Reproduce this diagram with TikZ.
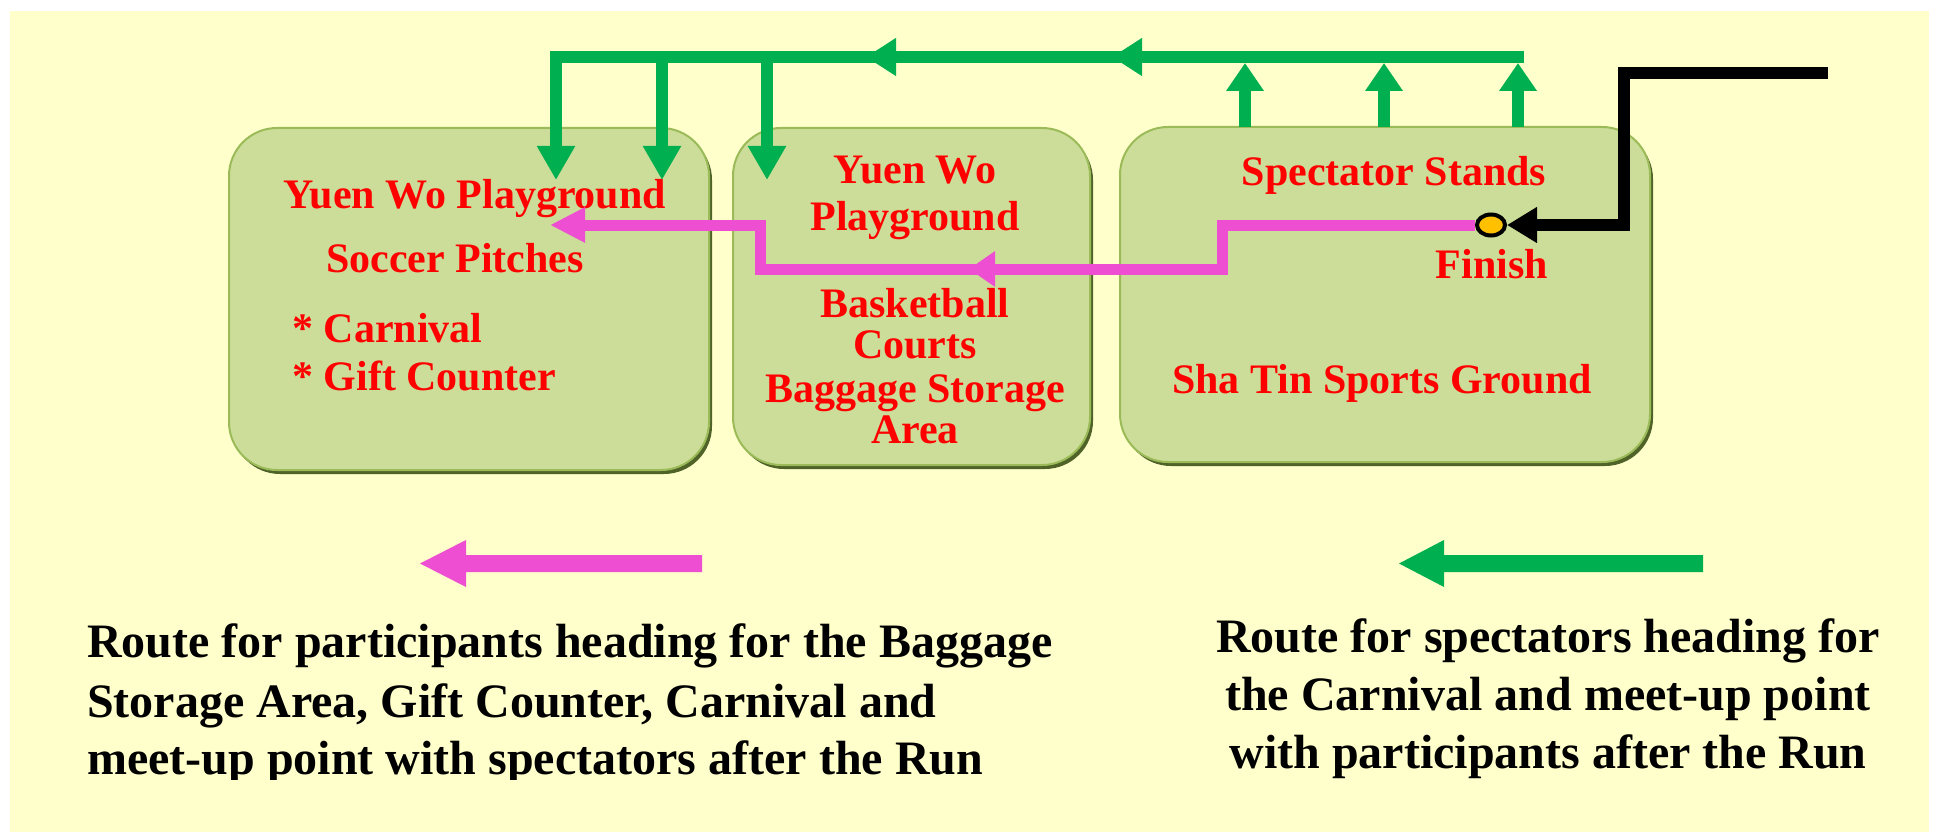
\documentclass[tikz,border=0pt]{standalone}
\usepackage{fontspec}
\setmainfont{Liberation Serif}
\usetikzlibrary{arrows.meta,shapes.geometric,shadows}
\definecolor{bgyellow}{RGB}{255,255,204}
\definecolor{boxfill}{RGB}{204,221,153}
\definecolor{boxline}{RGB}{155,187,89}
\definecolor{boxshadow}{RGB}{79,98,40}
\definecolor{routegreen}{RGB}{0,176,80}
\definecolor{routepink}{RGB}{238,78,210}
\definecolor{finishfill}{RGB}{255,192,0}
\definecolor{labelred}{RGB}{255,0,0}
\tikzset{
  areabox/.style={draw=boxline, line width=2pt, fill=boxfill, rounded corners=48pt,
    inner sep=0pt, drop shadow={shadow xshift=3pt, shadow yshift=-4pt, fill=boxshadow, opacity=1}},
  boxtext/.style={text=labelred, inner sep=0pt, font={\fontsize{42}{44}\selectfont\bfseries}},
  legendtext/.style={text=black, inner sep=0pt, font={\fontsize{48}{58}\selectfont\bfseries}},
  gline/.style={draw=routegreen, line width=12pt},
  pline/.style={draw=routepink, line width=11pt},
  kline/.style={draw=black, line width=11.5pt},
  downtip/.style={-{Triangle[length=34pt,width=36pt]}},
  uptip/.style={-{Triangle[length=28pt,width=36pt]}},
  lefttip/.style={-{Triangle[length=30pt,width=36pt]}},
}
\begin{document}
\begin{tikzpicture}[x=1pt,y=-1pt]
\useasboundingbox (0,0) rectangle (1938,832);
\fill[white] (0,0) rectangle (1938,832);
\fill[bgyellow] (10,11) rectangle (1929,832);

% area boxes
\node[areabox, minimum width=480pt, minimum height=342pt] (b1) at (469,299) {};
\node[areabox, minimum width=357pt, minimum height=337pt] (b2) at (911.5,296.5) {};
\node[areabox, minimum width=530pt, minimum height=335pt] (b3) at (1385,294.5) {};

% box texts
\node[boxtext, anchor=base west] (t11) at (283,208) {Yuen Wo Playground};
\node[boxtext, anchor=base west] (t12) at (326,272) {Soccer Pitches};
\node[boxtext, anchor=base west] (t13) at (292,342) {* Carnival};
\node[boxtext, anchor=base west] (t14) at (292,390) {* Gift Counter};
\node[boxtext, anchor=base] (t21) at (915,183) {Yuen Wo};
\node[boxtext, anchor=base] (t22) at (915,230) {Playground};
\node[boxtext, anchor=base] (t23) at (915,317) {Basketball};
\node[boxtext, anchor=base] (t24) at (915,358) {Courts};
\node[boxtext, anchor=base] (t25) at (915,402) {Baggage Storage};
\node[boxtext, anchor=base] (t26) at (915,443) {Area};
\node[boxtext, anchor=base] (t31) at (1394,185) {Spectator Stands};
\node[boxtext, anchor=base] (t32) at (1492,278) {Finish};
\node[boxtext, anchor=base] (t33) at (1382,393) {Sha Tin Sports Ground};

% route coordinates
\coordinate (gL) at (550,57);
\coordinate (gA1) at (866,57);
\coordinate (gA1b) at (894,57);
\coordinate (gA2) at (1112,57);
\coordinate (gA2b) at (1140,57);
\coordinate (gR) at (1524,57);
\coordinate (d1s) at (556,51);  \coordinate (d1e) at (556,180);
\coordinate (d2s) at (662,51);  \coordinate (d2e) at (662,180);
\coordinate (d3s) at (767,51);  \coordinate (d3e) at (767,180);
\coordinate (u1s) at (1245,127); \coordinate (u1e) at (1245,63);
\coordinate (u2s) at (1384,127); \coordinate (u2e) at (1384,63);
\coordinate (u3s) at (1518,127); \coordinate (u3e) at (1518,63);

% green spectator route
\draw[gline] (gA1b) -- (gL);
\draw[gline, lefttip] (gA2b) -- (gA1);
\draw[gline, lefttip] (gR) -- (gA2);
\draw[gline, downtip] (d1s) -- (d1e);
\draw[gline, downtip] (d2s) -- (d2e);
\draw[gline, downtip] (d3s) -- (d3e);
\draw[gline, uptip] (u1s) -- (u1e);
\draw[gline, uptip] (u2s) -- (u2e);
\draw[gline, uptip] (u3s) -- (u3e);

% finish marker
\node[ellipse, draw=black, line width=4pt, fill=finishfill, minimum width=28pt, minimum height=21pt, inner sep=0pt] (fin) at (1491,225) {};

% pink participant route
\coordinate (p1) at (1222,225);
\coordinate (p2) at (1222,269);
\coordinate (pm) at (969,269);
\coordinate (pmb) at (995,269);
\coordinate (p3) at (760,269);
\coordinate (p4) at (760,225);
\coordinate (pend) at (550,225);
\draw[pline] (pmb) -- (p3) -- (p4) -- ([xshift=30pt]pend);
\draw[pline, -{Triangle[length=35pt,width=33pt]}] ([xshift=40pt]pend) -- (pend);
\draw[pline, -{Triangle[length=26pt,width=34pt]}] (fin.west) -- (p1) -- (p2) -- (pm);

% black incoming route
\coordinate (k0) at (1828,73);
\coordinate (k1) at (1624,73);
\coordinate (k2) at (1624,225);
\draw[kline, -{Triangle[length=30pt,width=34pt]}] (k0) -- (k1) -- (k2) -- (fin.east);

% legend arrows
\fill[routepink] (420,563.5) -- (466,540) -- (466,555) -- (702,555) -- (702,572) -- (466,572) -- (466,587) -- cycle;
\fill[routegreen] (1399,563.5) -- (1444,540) -- (1444,555) -- (1703,555) -- (1703,572) -- (1444,572) -- (1444,587) -- cycle;

% legend texts
\begin{scope}
\clip (0,0) rectangle (1938,779);
\node[legendtext, anchor=base west] (l1) at (87,657) {Route for participants heading for the Baggage};
\node[legendtext, anchor=base west] (l2) at (87,717) {Storage Area, Gift Counter, Carnival and};
\node[legendtext, anchor=base west] (l3) at (87,774) {meet-up point with spectators after the Run};
\end{scope}
\node[legendtext, anchor=base] (r1) at (1548,652) {Route for spectators heading for};
\node[legendtext, anchor=base] (r2) at (1548,710) {the Carnival and meet-up point};
\node[legendtext, anchor=base] (r3) at (1548,768) {with participants after the Run};
\end{tikzpicture}
\end{document}
